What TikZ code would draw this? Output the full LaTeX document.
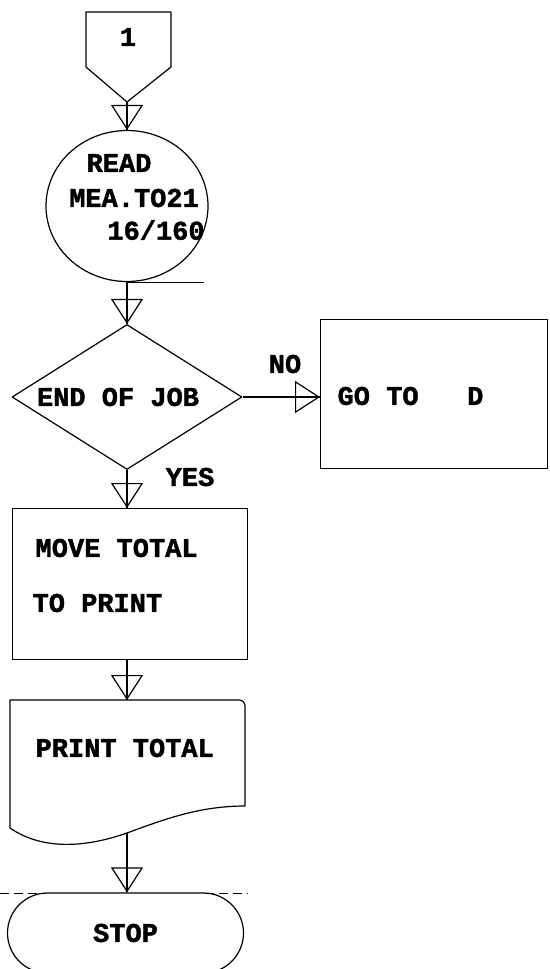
\documentclass[tikz,border=0pt]{standalone}
\usepackage{fontspec}
\setmonofont{Liberation Mono}[BoldFeatures={FakeBold=1.6}]
\usetikzlibrary{shapes.geometric,shapes.misc,arrows.meta}
\begin{document}
\begin{tikzpicture}[x=1pt,y=-1pt,
  line width=1.2pt, line join=round,
  every node/.style={font=\ttfamily\bfseries\fontsize{27}{30}\selectfont, inner sep=0pt},
  flow/.style={draw, postaction={draw, -{Triangle[open, length=25pt, width=32pt, line width=1.2pt]}}},
  extend/.style={dash pattern=on 9pt off 5pt, line width=0.9pt}
]
\useasboundingbox (0,0) rectangle (549,969);

% off-page connector
\node (one) at (128,37) {1};
\draw (86,12) -- (171,12) -- (171,67) -- (127,102) -- (86,67) -- cycle;
\coordinate (onetip) at (127,102);

% magnetic tape: read
\node[draw, ellipse, minimum width=162pt, minimum height=151pt] (read) at (127,206) {};
\draw (read.south) -- ++(77,0);
\node (t1) at (119,163) {READ};
\node (t2) at (134,198) {MEA.TO21};
\node (t3) at (156,230) {16/160};
\draw[flow] (onetip) -- (read.north);

% decision
\node[draw, diamond, minimum width=230pt, minimum height=145pt] (job) at (127,397) {};
\node (jobtxt) at (118,397) {END OF JOB};
\draw[flow] (read.south) -- (job.north);

% branch NO
\node[draw, minimum width=227pt, minimum height=149pt, anchor=north west] (goto) at (320,319) {};
\node[anchor=west] (gototxt) at (337,396) {GO TO~~~D};
\draw[flow] (job.east) -- (job.east -| goto.west);
\node (no) at (285,364) {NO};

% branch YES
\node[draw, minimum width=235pt, minimum height=151pt, anchor=north west] (move) at (12,508) {};
\node[anchor=west] (mv1) at (35,548) {MOVE TOTAL};
\node[anchor=west] (mv2) at (32,603) {TO PRINT};
\draw[flow] (job.south) -- (job.south |- move.north);
\node (yes) at (190,477) {YES};

% document
\coordinate (dtop) at (127,700);
\coordinate (dbot) at (127,833);
\draw (10,700) -- (10,828)
  .. controls (45,852) and (90,846) .. (dbot)
  .. controls (165,819) and (200,806) .. (245,806)
  -- (245,706) arc[start angle=0, end angle=-90, radius=6] -- cycle;
\node[anchor=west] (pr) at (35,748) {PRINT TOTAL};
\draw[flow] (job.south |- move.south) -- (dtop);

% terminal
\node[draw, rounded rectangle, minimum width=236pt, minimum height=80pt] (stop) at (125.5,933) {STOP};
\draw[flow] (dbot) -- (dbot |- stop.north);
\draw[extend] (0,893) -- (46,893);
\draw[extend] (205,893) -- (248,893);
\end{tikzpicture}
\end{document}
